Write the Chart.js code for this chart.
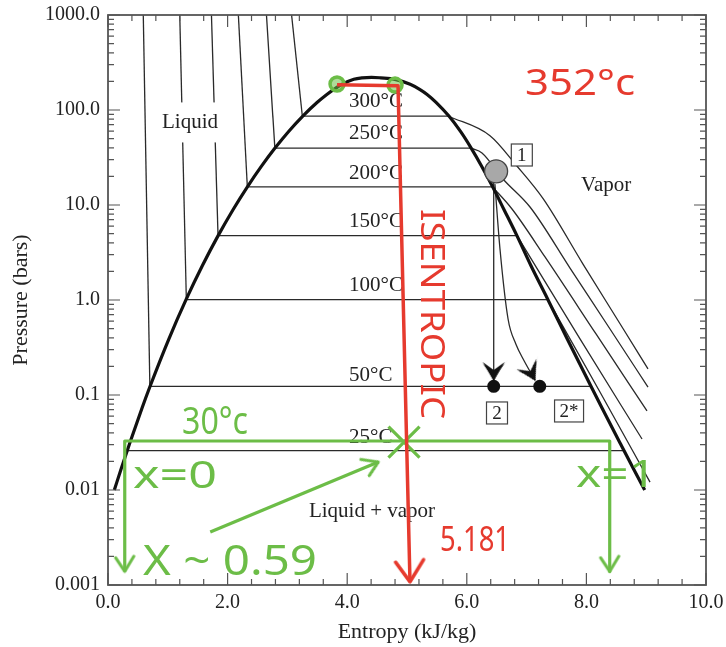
<!DOCTYPE html>
<html lang="en">
<head>
<meta charset="UTF-8">
<title>Pressure - entropy diagram, water</title>
<script src="https://cdn.jsdelivr.net/npm/chart.js"></script>
<style>
    html, body { margin: 0; padding: 0; background: #fff; }
    #wrap { width: 726px; height: 647px; }
</style>
</head>
<body>
<div id="wrap"><canvas id="psChart"></canvas></div>
<script>
// ---- values: entropy (kJ/kg.K) vs pressure (bar) ----
const xTickLabels = ['0.0', '2.0', '4.0', '6.0', '8.0', '10.0'];
const yTickLabels = ['0.001', '0.01', '0.1', '1.0', '10.0', '100.0', '1000.0'];

// saturation dome
const domeS = [0.106, 0.2245, 0.3674, 0.5725, 0.7038, 1.0155, 1.3069, 1.5813, 1.8418, 2.0906, 2.3309, 2.5639, 2.7927, 3.0208, 3.2534, 3.4999, 3.6594, 3.7777, 3.9147, 4.1106, 4.25, 4.407, 4.56, 4.7971, 5.0526, 5.2112, 5.3357, 5.4859, 5.7045, 5.8947, 6.073, 6.2503, 6.4323, 6.623, 6.8379, 7.0695, 7.3549, 7.6824, 8.0763, 8.257, 8.558, 8.7803, 8.975];
const domeP = [0.01, 0.01705, 0.03169, 0.07384, 0.1235, 0.3858, 1.0142, 2.321, 4.758, 8.92, 15.54, 25.48, 39.73, 59.46, 85.81, 120.6, 145.9, 165.1, 186.5, 210.4, 218, 220.9, 218, 210.4, 186.5, 165.1, 145.9, 120.6, 85.81, 59.46, 39.73, 25.48, 15.54, 8.92, 4.758, 2.321, 1.0142, 0.3858, 0.1235, 0.07384, 0.03169, 0.01705, 0.01];

// isotherms inside the dome
const satLabels = ['300°C', '250°C', '200°C', '150°C', '100°C', '50°C', '25°C'];
const satP = [86, 39.7, 15.5, 4.76, 1.01, 0.1235, 0.026];
const satLiqS = [3.25, 2.79, 2.33, 1.84, 1.31, 0.70, 0.32];
const satVapS = [5.70, 6.07, 6.43, 6.84, 7.355, 8.08, 8.64];

// compressed liquid isotherms, entropy where they reach 1000 bar (300 .. 50 C)
const liqTopS = [3.07, 2.65, 2.18, 1.73, 1.20, 0.59];

// superheated isotherms
const sh300S = [5.70, 6.388, 6.834, 7.279, 7.943, 8.617, 9.03];
const sh300P = [86, 53.6, 25.9, 11.6, 2.39, 0.495, 0.188];
const sh250S = [6.07, 6.254, 6.605, 7.057, 7.726, 8.395, 9.03];
const sh250P = [39.7, 35.3, 18.8, 9.53, 2.17, 0.495, 0.121];
const sh200S = [6.43, 6.756, 7.308, 8.161, 9.013];
const sh200P = [15.5, 9.08, 2.84, 0.439, 0.0679];
const sh150S = [6.84, 7.893, 8.93];
const sh150P = [4.76, 0.389, 0.0344];
const sh100S = [7.355, 8.227, 9.064];
const sh100P = [1.01, 0.1075, 0.0121];

// expansion 1 -> 2 (isentropic) and 1 -> 2* (real)
const state1S = [6.49], state1P = [22.6];
const state2S = [6.45, 7.22], state2P = [0.1235, 0.1235];
const isenS = [6.45, 6.45], isenP = [22, 0.1437];
const realS = [6.47, 6.555, 6.69, 6.82, 6.96, 7.14];
const realP = [16.6, 3.44, 0.631, 0.344, 0.228, 0.1437];
const arrowTipS = [6.45, 7.14], arrowTipP = [0.1437, 0.1437];

// hand annotations
const redS = [3.83, 4.85, 5.05], redP = [184, 180, 0.00108];
const greenS = [0.28, 0.28, 8.39, 8.39], greenP = [0.00139, 0.0328, 0.0328, 0.00139];
const greenDiagS = [1.71, 4.52], greenDiagP = [0.00362, 0.0197];
const greenTipS = [0.28, 8.39, 4.52], greenTipP = [0.00139, 0.00139, 0.0197];
const crossS = [4.95], crossP = [0.0319];
const loopS = [3.83, 4.80], loopP = [188, 183];

// ---- layout of texts (data coordinates) ----
const serif = '"Liberation Serif", "DejaVu Serif", serif';
const regionLabels = [
    { text: 'Liquid', s: 1.371, p: 74, bg: 40 },
    { text: 'Vapor', s: 8.33, p: 16.2, bg: 26 },
    { text: 'Liquid + vapor', s: 4.415, p: 0.006, bg: 0 }
];
const tempLabelS = 4.03;
const tempLabelP = [124, 57, 21.6, 6.7, 1.42, 0.16, 0.036];
const boxLabels = [
    { text: '1', s: 6.92, p: 33.6 },
    { text: '2', s: 6.505, p: 0.0647 },
    { text: '2*', s: 7.71, p: 0.0679 }
];
const RED = '#e63a2e', GREEN = '#6cbd47';
const notes = [
    { text: '352°c', s: 7.893, p: 185, w: 110, size: 36, color: RED },
    { text: 'ISENTROPIC', s: 5.385, p: 0.712, w: 210, size: 32, color: RED, rot: 90 },
    { text: '5.181', s: 6.137, p: 0.0029, w: 70, size: 34, color: RED },
    { text: '30°c', s: 1.789, p: 0.05, w: 66, size: 38, color: GREEN },
    { text: 'x=0', s: 1.12, p: 0.0138, w: 84, size: 38, color: GREEN },
    { text: 'X ~ 0.59', s: 2.04, p: 0.00172, w: 174, size: 42, color: GREEN },
    { text: 'x=1', s: 8.495, p: 0.0141, w: 80, size: 38, color: GREEN }
];

const pts = (xs, ys) => xs.map((v, i) => ({ x: v, y: ys[i] }));

// arrow heads, tip at the canvas centre, pointing right
function barbHead(color) {
    const c = document.createElement('canvas');
    c.width = 50; c.height = 50;
    const g = c.getContext('2d');
    g.translate(25, 25);
    g.fillStyle = color;
    g.beginPath();
    g.moveTo(1, 0);
    g.quadraticCurveTo(-10, -5, -20, -14);
    g.quadraticCurveTo(-12, -8, -10, 0);
    g.quadraticCurveTo(-12, 8, -20, 14);
    g.quadraticCurveTo(-10, 5, 1, 0);
    g.fill();
    g.beginPath();
    g.moveTo(1, 0);
    g.lineTo(-18, -11);
    g.lineTo(-10, 0);
    g.lineTo(-18, 11);
    g.closePath();
    g.fill();
    return c;
}
function openHead(color, len, half, lw) {
    const c = document.createElement('canvas');
    c.width = c.height = 2 * len + 8;
    const g = c.getContext('2d');
    g.translate(c.width / 2, c.height / 2);
    g.strokeStyle = color;
    g.lineWidth = lw;
    g.lineCap = 'round';
    g.lineJoin = 'round';
    g.beginPath();
    g.moveTo(-len, -half);
    g.lineTo(0, 0);
    g.lineTo(-len * 0.9, half);
    g.stroke();
    return c;
}

const line = (data, extra) => Object.assign({
    data, showLine: true, pointRadius: 0, borderColor: '#2a2a2a', borderWidth: 1.3,
    cubicInterpolationMode: 'monotone', order: 10
}, extra);

const datasets = [];
// annotations on top
datasets.push(line(pts(redS, redP), { borderColor: RED, borderWidth: 3.5, borderJoinStyle: 'round', order: 1, cubicInterpolationMode: 'default', tension: 0 }));
datasets.push({ data: pts([redS[2]], [redP[2]]), pointStyle: openHead(RED, 22, 14, 3.5), pointRadius: 10, pointRotation: 89, order: 1, clip: false });
datasets.push(line(pts(greenS, greenP), { borderColor: GREEN, borderWidth: 3.2, borderJoinStyle: 'round', order: 1, cubicInterpolationMode: 'default', tension: 0 }));
datasets.push(line(pts(greenDiagS, greenDiagP), { borderColor: GREEN, borderWidth: 3.2, order: 1, cubicInterpolationMode: 'default', tension: 0 }));
datasets.push({ data: pts(greenTipS, greenTipP), pointStyle: openHead(GREEN, 15, 9, 3.2), pointRadius: 10, pointRotation: [90, 90, -22.6], order: 1, clip: false });
datasets.push({ data: pts(crossS, crossP), pointStyle: 'crossRot', pointRadius: 22, borderColor: GREEN, borderWidth: 3.2, order: 1 });
datasets.push({ data: pts(loopS, loopP), pointStyle: 'circle', pointRadius: 7, borderColor: GREEN, borderWidth: 3.5, backgroundColor: 'rgba(108,189,71,0.55)', order: 1, clip: false });

// state points (over the lines, labels drawn right after the first of these)
datasets.push({ data: pts(state1S, state1P), pointStyle: 'circle', pointRadius: 11.5, backgroundColor: '#a8a8a8', borderColor: '#444', borderWidth: 1.3, order: 5, drawLabelsAfter: true });
datasets.push({ data: pts(state2S, state2P), pointStyle: 'circle', pointRadius: 6.5, backgroundColor: '#111', borderColor: '#111', borderWidth: 0, order: 6 });
datasets.push({ data: pts(arrowTipS, arrowTipP), pointStyle: barbHead('#111'), pointRadius: 10, pointRotation: [90, 62], order: 6 });

// diagram lines
datasets.push(line(pts(domeS, domeP), { borderColor: '#111', borderWidth: 3.2 }));
satP.forEach((p, i) => datasets.push(line(pts([satLiqS[i], satVapS[i]], [p, p]), { cubicInterpolationMode: 'default', tension: 0 })));
liqTopS.forEach((s, i) => datasets.push(line(pts([satLiqS[i], s], [satP[i], 1000]), { cubicInterpolationMode: 'default', tension: 0 })));
[[sh300S, sh300P], [sh250S, sh250P], [sh200S, sh200P], [sh150S, sh150P], [sh100S, sh100P]]
    .forEach(([s, p]) => datasets.push(line(pts(s, p))));
datasets.push(line(pts(isenS, isenP), { cubicInterpolationMode: 'default', tension: 0 }));
datasets.push(line(pts(realS, realP)));

function drawLabels(chart) {
    const { ctx, scales: { x, y } } = chart;
    ctx.save();
    ctx.textBaseline = 'middle';
    ctx.font = '21px ' + serif;
    regionLabels.forEach(l => {
        const px = x.getPixelForValue(l.s), py = y.getPixelForValue(l.p);
        const w = ctx.measureText(l.text).width;
        if (l.bg) {
            ctx.fillStyle = '#fff';
            ctx.fillRect(px - w / 2 - 6, py - l.bg / 2, w + 12, l.bg);
        }
        ctx.fillStyle = '#222';
        ctx.textAlign = 'center';
        ctx.fillText(l.text, px, py);
    });
    ctx.textAlign = 'left';
    satLabels.forEach((t, i) => {
        ctx.fillText(t, x.getPixelForValue(tempLabelS), y.getPixelForValue(tempLabelP[i]));
    });
    ctx.font = '19px ' + serif;
    ctx.textAlign = 'center';
    boxLabels.forEach(b => {
        const px = x.getPixelForValue(b.s), py = y.getPixelForValue(b.p);
        const w = Math.max(21, ctx.measureText(b.text).width + 10);
        ctx.fillStyle = '#fff';
        ctx.fillRect(px - w / 2, py - 11, w, 22);
        ctx.strokeStyle = '#444';
        ctx.lineWidth = 1.2;
        ctx.strokeRect(px - w / 2, py - 11, w, 22);
        ctx.fillStyle = '#222';
        ctx.fillText(b.text, px, py + 1);
    });
    ctx.restore();
}

const diagramTexts = {
    id: 'diagramTexts',
    afterDatasetDraw(chart, args) {
        if (chart.data.datasets[args.index].drawLabelsAfter) drawLabels(chart);
    }
};

const frameTicks = {
    id: 'frameTicks',
    afterDatasetsDraw(chart) {
        const { ctx, chartArea: a, scales: { x, y } } = chart;
        ctx.save();
        ctx.strokeStyle = '#555';
        ctx.lineWidth = 1.2;
        ctx.beginPath();
        for (let i = 0; i <= 25; i++) {
            const px = x.getPixelForValue(i * 0.4);
            const len = i % 5 === 0 ? 12 : 6;
            ctx.moveTo(px, a.bottom); ctx.lineTo(px, a.bottom - len);
            ctx.moveTo(px, a.top); ctx.lineTo(px, a.top + len);
        }
        for (let e = -3; e <= 3; e++) {
            for (let k = 1; k <= 9; k++) {
                if (e === 3 && k > 1) break;
                const py = y.getPixelForValue(k * Math.pow(10, e));
                const len = k === 1 ? 12 : 6;
                ctx.moveTo(a.left, py); ctx.lineTo(a.left + len, py);
                ctx.moveTo(a.right, py); ctx.lineTo(a.right - len, py);
            }
        }
        ctx.stroke();
        ctx.lineWidth = 1.8;
        ctx.strokeRect(a.left, a.top, a.right - a.left, a.bottom - a.top);
        ctx.restore();
    }
};

const handNotes = {
    id: 'handNotes',
    afterDatasetsDraw(chart) {
        const { ctx, scales: { x, y } } = chart;
        notes.forEach(n => {
            ctx.save();
            ctx.translate(x.getPixelForValue(n.s), y.getPixelForValue(n.p));
            if (n.rot) ctx.rotate(n.rot * Math.PI / 180);
            ctx.font = `${n.size}px "Noto Sans", sans-serif`;
            const w = ctx.measureText(n.text).width;
            ctx.scale(n.w / w, 1);
            ctx.fillStyle = n.color;
            ctx.textAlign = 'center';
            ctx.textBaseline = 'middle';
            ctx.fillText(n.text, 0, 0);
            ctx.restore();
        });
    }
};

const tickFont = { family: serif, size: 20 };
const titleFont = { family: serif, size: 22 };

new Chart(document.getElementById('psChart'), {
    type: 'scatter',
    data: { datasets },
    options: {
        responsive: true,
        maintainAspectRatio: false,
        animation: false,
        events: [],
        layout: { autoPadding: false, padding: { top: 15, right: 20, left: 0, bottom: 0 } },
        plugins: { legend: { display: false }, tooltip: { enabled: false } },
        scales: {
            x: {
                type: 'linear', min: 0, max: 10,
                grid: { display: false, drawTicks: false },
                border: { display: false },
                ticks: {
                    stepSize: 2, padding: 6, autoSkip: false, maxRotation: 0,
                    color: '#222', font: tickFont,
                    callback: v => xTickLabels[Math.round(v / 2)] ?? ''
                },
                title: { display: true, text: 'Entropy (kJ/kg)', color: '#222', font: titleFont, padding: { top: 0, bottom: 2 } },
                afterFit: s => { s.height = 62; s.paddingLeft = 0; s.paddingRight = 0; }
            },
            y: {
                type: 'logarithmic', min: 0.001, max: 1000,
                grid: { display: false, drawTicks: false },
                border: { display: false },
                ticks: {
                    autoSkip: false, padding: 8, color: '#222', font: tickFont,
                    callback: v => {
                        const e = Math.log10(v), r = Math.round(e);
                        return Math.abs(e - r) < 1e-6 ? yTickLabels[r + 3] : '';
                    }
                },
                title: { display: true, text: 'Pressure (bars)', color: '#222', font: titleFont, padding: { top: 8, bottom: 0 } },
                afterFit: s => { s.width = 108; s.paddingTop = 0; s.paddingBottom = 0; }
            }
        }
    },
    plugins: [diagramTexts, frameTicks, handNotes]
});
</script>
</body>
</html>
